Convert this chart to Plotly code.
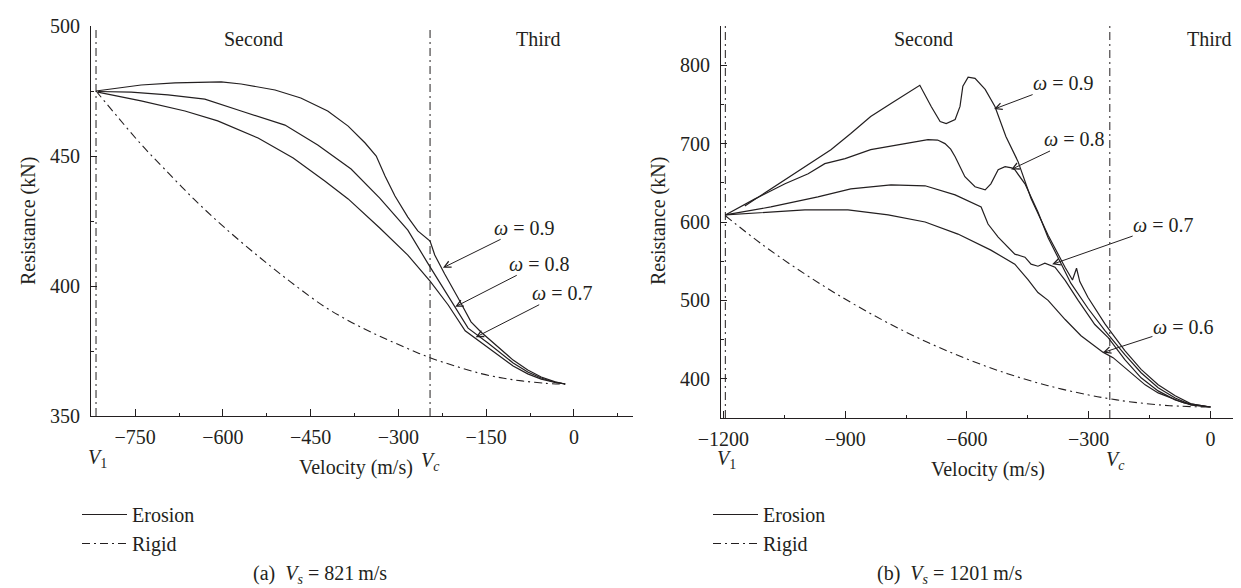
import plotly.graph_objects as go

# ---- figure geometry (pixels of the 1241x588 page) ----
W, H = 1241, 588
INK = "#231f20"
FONT = "Liberation Serif"
DASHDOT = "8px,4px,2px,4px"

# ---- (a) Vs = 821 m/s ----
V1_A, VC_A = -817, -246

vel_a_09 = [-817, -740, -682, -603, -569, -511, -467, -421, -386, -357, -338, -323, -306,
            -284, -267, -246, -238, -221, -198, -176, -159, -147, -104, -79, -56, -32, -15]
res_a_09 = [475.0, 477.3, 478.1, 478.5, 477.7, 475.4, 472.3, 467.3, 461.5, 455.0, 450.0, 442.3,
            434.6, 426.5, 421.2, 417.3, 411.9, 404.6, 395.4, 386.2, 382.3, 380.0, 371.5, 367.7,
            365.0, 363.1, 362.3]

vel_a_08 = [-814, -757, -694, -631, -569, -494, -438, -381, -332, -284, -250, -221, -203,
            -181, -147, -104, -79, -56, -32, -15]
res_a_08 = [474.8, 474.6, 473.5, 471.9, 467.3, 461.9, 454.2, 445.0, 433.8, 421.5, 408.8, 398.1,
            391.5, 383.8, 378.1, 370.4, 366.9, 364.6, 362.9, 362.3]

vel_a_07 = [-814, -740, -665, -609, -540, -480, -426, -386, -332, -284, -246, -215, -186,
            -147, -104, -79, -56, -32, -15]
res_a_07 = [474.6, 471.2, 467.3, 463.5, 456.9, 449.2, 440.4, 433.5, 422.3, 411.9, 401.9, 392.7,
            382.8, 376.2, 369.2, 366.2, 364.2, 362.9, 362.3]

vel_a_rigid = [-817, -780, -740, -700, -650, -600, -540, -484, -426, -380, -335, -290, -246,
               -200, -157, -120, -89, -50, -15]
res_a_rigid = [475.0, 465.0, 454.5, 445.0, 433.5, 423.0, 411.5, 401.5, 392.0, 386.0, 381.0,
               376.5, 372.4, 369.0, 366.2, 364.5, 363.5, 362.6, 362.2]

# ---- (b) Vs = 1201 m/s ----
V1_B, VC_B = -1195, -248

vel_b_09 = [-1147, -1065, -999, -935, -886, -837, -787, -716, -688, -666, -651, -629, -617,
            -610, -597, -580, -555, -531, -504, -474, -442, -400, -358, -340, -330, -322, -302,
            -260, -211, -171, -129, -87, -48, 0]
res_b_09 = [620.5, 648.7, 670.5, 692.3, 712.8, 734.6, 751.3, 774.4, 747.4, 728.2, 725.6, 730.8,
            747.4, 773.1, 784.6, 783.3, 769.2, 747.4, 709.0, 677.0, 630.0, 583.0, 542.0, 526.0,
            541.0, 524.0, 504.0, 470.0, 436.0, 412.0, 392.5, 378.5, 368.0, 364.0]

vel_b_08 = [-1195, -1122, -1048, -991, -950, -900, -837, -752, -696, -672, -654, -640, -629,
            -605, -580, -555, -541, -523, -506, -490, -482, -457, -425, -400, -383, -344, -302,
            -260, -211, -171, -129, -87, -48, 0]
res_b_08 = [609.0, 629.5, 648.7, 661.5, 674.4, 680.8, 692.3, 700.0, 705.1, 704.5, 700.0, 693.0,
            683.3, 657.7, 644.9, 641.0, 648.7, 666.7, 670.5, 669.0, 666.7, 648.7, 612.8, 580.0,
            562.0, 522.0, 490.0, 461.5, 430.8, 407.7, 388.5, 375.6, 366.7, 364.0]

vel_b_07 = [-1195, -1083, -967, -886, -787, -703, -629, -565, -548, -523, -482, -457, -442,
            -425, -408, -383, -358, -326, -285, -252, -211, -171, -129, -87, -48, 0]
res_b_07 = [609.0, 619.2, 632.1, 642.3, 647.4, 646.2, 634.6, 619.2, 597.4, 580.8, 559.0, 555.1,
            546.2, 543.6, 547.4, 542.3, 525.6, 500.0, 469.2, 452.6, 424.4, 401.3, 384.6, 373.1,
            366.7, 364.0]

vel_b_06 = [-1195, -1107, -999, -893, -794, -703, -622, -541, -482, -450, -425, -400, -358,
            -319, -280, -265, -240, -211, -161, -129, -65, 0]
res_b_06 = [609.0, 611.5, 615.4, 615.4, 609.0, 600.0, 584.6, 564.1, 546.2, 526.9, 510.0, 500.0,
            475.6, 455.0, 440.0, 434.0, 427.0, 414.1, 392.3, 382.0, 369.2, 364.0]

vel_b_rigid = [-1195, -1100, -1000, -900, -800, -700, -600, -500, -400, -300, -248, -200,
               -100, 0]
res_b_rigid = [608.0, 569.7, 534.0, 501.7, 472.8, 447.3, 425.2, 406.5, 391.2, 379.3, 374.5,
               370.8, 365.7, 364.0]

# omega labels: (label, tip velocity, tip resistance, text offset px)
omega_a = [("0.9", -224, 407.0, 81, -40), ("0.8", -203, 392.0, 84, -43),
           ("0.7", -168, 380.3, 86, -44)]
omega_b = [("0.9", -533, 744.0, 69, -26), ("0.8", -491, 667.0, 63, -30),
           ("0.7", -390, 546.0, 111, -39), ("0.6", -265, 433.5, 80, -26)]


def px(x):
    return x / W


def py(y):
    return 1 - y / H


fig = go.Figure()


def add_panel(erosion, rigid, xa, ya, leg):
    for i, (v, r) in enumerate(erosion):
        fig.add_trace(go.Scatter(
            x=v, y=r, mode="lines", name="Erosion", legend=leg,
            showlegend=(i == 0), xaxis=xa, yaxis=ya,
            line=dict(color=INK, width=1.2),
        ))
    fig.add_trace(go.Scatter(
        x=rigid[0], y=rigid[1], mode="lines", name="Rigid", legend=leg,
        xaxis=xa, yaxis=ya, line=dict(color=INK, width=1.1, dash=DASHDOT, shape="spline"),
    ))


add_panel([(vel_a_09, res_a_09), (vel_a_08, res_a_08), (vel_a_07, res_a_07)],
          (vel_a_rigid, res_a_rigid), "x", "y", "legend")
add_panel([(vel_b_09, res_b_09), (vel_b_08, res_b_08), (vel_b_07, res_b_07),
           (vel_b_06, res_b_06)],
          (vel_b_rigid, res_b_rigid), "x2", "y2", "legend2")

for xref, xv in [("x", V1_A), ("x", VC_A), ("x2", V1_B), ("x2", VC_B)]:
    yref = "y domain" if xref == "x" else "y2 domain"
    fig.add_shape(type="line", xref=xref, yref=yref, x0=xv, x1=xv, y0=0, y1=1,
                  line=dict(color=INK, width=1, dash=DASHDOT))

font = dict(family=FONT, size=20, color=INK)
axis_common = dict(
    showline=True, linecolor=INK, linewidth=1.2, showgrid=False, zeroline=False,
    ticks="inside", tickwidth=1.2, tickcolor=INK, tickfont=font, tickmode="linear", tick0=0,
    automargin=False,
)

fig.update_layout(
    width=W, height=H,
    margin=dict(l=0, r=0, t=0, b=0),
    paper_bgcolor="white", plot_bgcolor="white",
    font=font,
    xaxis=dict(axis_common, domain=[px(83), px(625)], range=[-825.6, 100.9], anchor="y",
               dtick=150, ticklen=7, ticklabelstandoff=3,
               minor=dict(ticks="inside", ticklen=3, tickwidth=1, tickcolor=INK, dtick=75,
                          tick0=0, showgrid=False)),
    yaxis=dict(axis_common, domain=[py(408), py(18)], range=[350, 500], anchor="x",
               dtick=50, ticklen=6, ticklabelstandoff=6,
               minor=dict(ticks="inside", ticklen=3, tickwidth=1, tickcolor=INK, dtick=25,
                          tick0=0, showgrid=False)),
    xaxis2=dict(axis_common, domain=[px(713), 1.0], range=[-1205.7, 94.8], anchor="y2",
                dtick=300, ticklen=7, ticklabelstandoff=3,
                minor=dict(ticks="inside", ticklen=3, tickwidth=1, tickcolor=INK, dtick=150,
                           tick0=0, showgrid=False)),
    yaxis2=dict(axis_common, domain=[py(410), py(18)], range=[350, 850], anchor="x2",
                dtick=100, ticklen=6, ticklabelstandoff=6,
                minor=dict(ticks="inside", ticklen=3, tickwidth=1, tickcolor=INK, dtick=50,
                           tick0=0, showgrid=False)),
    legend=dict(x=px(69), y=py(487), xanchor="left", yanchor="top", font=font,
                bgcolor="rgba(0,0,0,0)", itemwidth=45, tracegroupgap=0),
    legend2=dict(x=px(700), y=py(487), xanchor="left", yanchor="top", font=font,
                 bgcolor="rgba(0,0,0,0)", itemwidth=45, tracegroupgap=0),
)

texts = [
    ("Second", 245, 31, 0), ("Third", 530, 31, 0),
    ("Second", 916, 31, 0), ("Third", 1201, 31, 0),
    ("Resistance (kN)", 20, 213, -90), ("Resistance (kN)", 650, 213, -90),
    ("Velocity (m/s)", 348, 459, 0), ("Velocity (m/s)", 980, 461, 0),
    ("<i>V</i><sub>1</sub>", 89, 450, 0), ("<i>V<sub>c</sub></i>", 423, 453, 0),
    ("<i>V</i><sub>1</sub>", 718, 451, 0), ("<i>V<sub>c</sub></i>", 1107, 452, 0),
    ("(a)\u00a0\u00a0<i>V<sub>s</sub></i> = 821\u2009m/s", 312, 566, 0),
    ("(b)\u00a0\u00a0<i>V<sub>s</sub></i> = 1201\u2009m/s", 941, 566, 0),
]
for t, x, y, ang in texts:
    fig.add_annotation(text=t, x=px(x), y=py(y), xref="paper", yref="paper",
                       showarrow=False, textangle=ang, font=font,
                       xanchor="center", yanchor="middle")

for labels, xr, yr in [(omega_a, "x", "y"), (omega_b, "x2", "y2")]:
    for lab, tv, tr, ax, ay in labels:
        fig.add_annotation(text="<i>\u03c9</i> = " + lab, x=tv, y=tr, xref=xr, yref=yr,
                           ax=ax, ay=ay, showarrow=True, arrowhead=5, arrowsize=1.3,
                           arrowwidth=1, arrowcolor=INK, font=font, borderpad=0)

fig.write_html("out.html")
